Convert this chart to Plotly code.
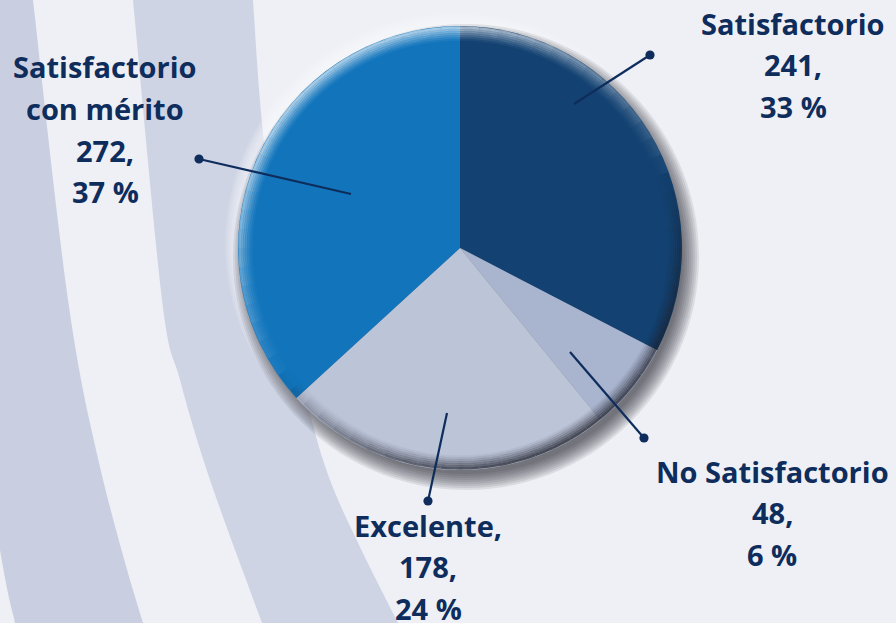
import math
import plotly.graph_objects as go

# ---------------- data ----------------
categories = ["Satisfactorio", "No Satisfactorio", "Excelente", "Satisfactorio con mérito"]
values = [241, 48, 178, 272]
label_names = [["Satisfactorio"], ["No Satisfactorio"], ["Excelente,"], ["Satisfactorio", "con mérito"]]
slice_colors = ["#134272", "#a9b4cf", "#bcc4d8", "#1275bc"]

# ---------------- layout / style ----------------
W, H = 896, 623
CX, CY, R = 460, 248, 222
TEXT = "#0e2d5c"
BG = "#eef0f5"
FONT = "Open Sans"
LINE_STEP = 41.5

# label text x-centre / first-line y, leader dots and leader inner ends (pixels)
label_pos = [(793, 23), (772, 471), (428, 525), (105, 67)]
dot_pos = [(650, 55), (644, 438), (428, 501), (199, 159)]
inner_pos = [(574, 104), (570, 352), (447, 413), (351, 194)]


def P(x, y):
    return x / W, 1 - y / H


def path(points, close=False):
    s = "M " + " L ".join("%.5f,%.5f" % P(x, y) for x, y in points)
    return s + (" Z" if close else "")


def catmull(pts, n=12):
    out = []
    for i in range(len(pts) - 1):
        p0 = pts[max(i - 1, 0)]
        p1 = pts[i]
        p2 = pts[i + 1]
        p3 = pts[min(i + 2, len(pts) - 1)]
        for k in range(n):
            t = k / n
            t2, t3 = t * t, t * t * t
            x = 0.5 * ((2 * p1[0]) + (-p0[0] + p2[0]) * t + (2 * p0[0] - 5 * p1[0] + 4 * p2[0] - p3[0]) * t2 + (-p0[0] + 3 * p1[0] - 3 * p2[0] + p3[0]) * t3)
            y = 0.5 * ((2 * p1[1]) + (-p0[1] + p2[1]) * t + (2 * p0[1] - 5 * p1[1] + 4 * p2[1] - p3[1]) * t2 + (-p0[1] + 3 * p1[1] - 3 * p2[1] + p3[1]) * t3)
            out.append((x, y))
    out.append(pts[-1])
    return out


shapes = []

# ---- background curved bands ----
bands = [
    ("#c9cfe1",
     [(-77, -20), (-75, 0), (-40, 300), (0, 550), (15, 623), (22, 650)],
     [(31, -20), (33, 0), (68, 300), (100, 467), (143, 623), (158, 650)]),
    ("#ced4e4",
     [(131, -20), (133, 0), (162, 300), (180, 380), (210, 480), (262, 623), (272, 650)],
     [(252, -20), (253, 0), (263, 133), (285, 300), (310, 413), (330, 480), (360, 547), (398, 623), (412, 650)]),
]
for col, left, right in bands:
    pts = catmull(left) + list(reversed(catmull(right)))
    shapes.append(dict(type="path", path=path(pts, True), xref="paper", yref="paper",
                       fillcolor=col, line=dict(width=0), layer="below"))


def circle_pts(cx, cy, r, n=120):
    return [(cx + r * math.cos(2 * math.pi * i / n), cy + r * math.sin(2 * math.pi * i / n)) for i in range(n)]


# ---- soft light halo (top-left) ----
for i in range(5):
    shapes.append(dict(type="path", path=path(circle_pts(CX - 4, CY - 4, R + 9 - 2 * i), True),
                       xref="paper", yref="paper", fillcolor="rgba(255,255,255,0.12)",
                       line=dict(width=0), layer="below"))

# ---- drop shadow (bottom-right) ----
for i in range(9):
    shapes.append(dict(type="path", path=path(circle_pts(CX + 6, CY + 9, R + 11 - 2 * i), True),
                       xref="paper", yref="paper", fillcolor="rgba(30,32,45,0.095)",
                       line=dict(width=0), layer="below"))

# ---- bevel on pie rim ----
LX, LY = math.cos(math.radians(118)), -math.sin(math.radians(118))
S, K, WD = 72, 7, 2.0
for k in range(K):
    r = R - 0.5 - WD * (k + 0.5)
    fall = (1 - k / K) ** 1.3
    for j in range(S):
        a0 = 2 * math.pi * j / S
        a1 = 2 * math.pi * (j + 1) / S
        am = (a0 + a1) / 2
        f = math.cos(am) * LX + math.sin(am) * LY + 0.15
        if f >= 0:
            col = "rgba(255,255,255,%.3f)" % (0.6 * min(f, 1) * fall)
        else:
            col = "rgba(28,30,40,%.3f)" % (0.82 * min(-f, 1) ** 0.7 * fall)
        pts = [(CX + r * math.cos(a0 + (a1 - a0) * t / 4), CY + r * math.sin(a0 + (a1 - a0) * t / 4)) for t in range(5)]
        shapes.append(dict(type="path", path=path(pts), xref="paper", yref="paper",
                           line=dict(color=col, width=WD + 0.3), layer="above"))

# ---- leader lines with dots ----
for (ix, iy), (dx, dy) in zip(inner_pos, dot_pos):
    x0, y0 = P(ix, iy)
    x1, y1 = P(dx, dy)
    shapes.append(dict(type="line", xref="paper", yref="paper", x0=x0, y0=y0, x1=x1, y1=y1,
                       line=dict(color=TEXT, width=2.2), layer="above"))
    rr = 4.6
    shapes.append(dict(type="circle", xref="paper", yref="paper",
                       x0=(dx - rr) / W, x1=(dx + rr) / W, y0=1 - (dy + rr) / H, y1=1 - (dy - rr) / H,
                       fillcolor=TEXT, line=dict(width=0), layer="above"))

# ---- labels (one annotation per line) ----
total = sum(values)
annotations = []
for names, v, (lx, ly) in zip(label_names, values, label_pos):
    pct = round(v / total * 100)
    lines = names + ["%d," % v, "%d %%" % pct]
    for i, t in enumerate(lines):
        x, y = P(lx, ly + i * LINE_STEP)
        annotations.append(dict(x=x, y=y, xref="paper", yref="paper", text=t, showarrow=False,
                                xanchor="center", yanchor="middle", align="center",
                                font=dict(family=FONT, size=29, color=TEXT, weight=700)))

fig = go.Figure(go.Pie(
    labels=categories,
    values=values,
    sort=False,
    direction="clockwise",
    rotation=0,
    marker=dict(colors=slice_colors, line=dict(width=0)),
    textinfo="none",
    hoverinfo="label+value+percent",
    showlegend=False,
    domain=dict(x=[(CX - R) / W, (CX + R) / W], y=[1 - (CY + R) / H, 1 - (CY - R) / H]),
))

fig.update_layout(
    width=W, height=H,
    margin=dict(l=0, r=0, t=0, b=0),
    paper_bgcolor=BG, plot_bgcolor=BG,
    shapes=shapes,
    annotations=annotations,
    showlegend=False,
)

fig.write_html("out.html", config={"displayModeBar": False},
               post_script="document.body.style.margin='0';document.body.style.padding='0';")
